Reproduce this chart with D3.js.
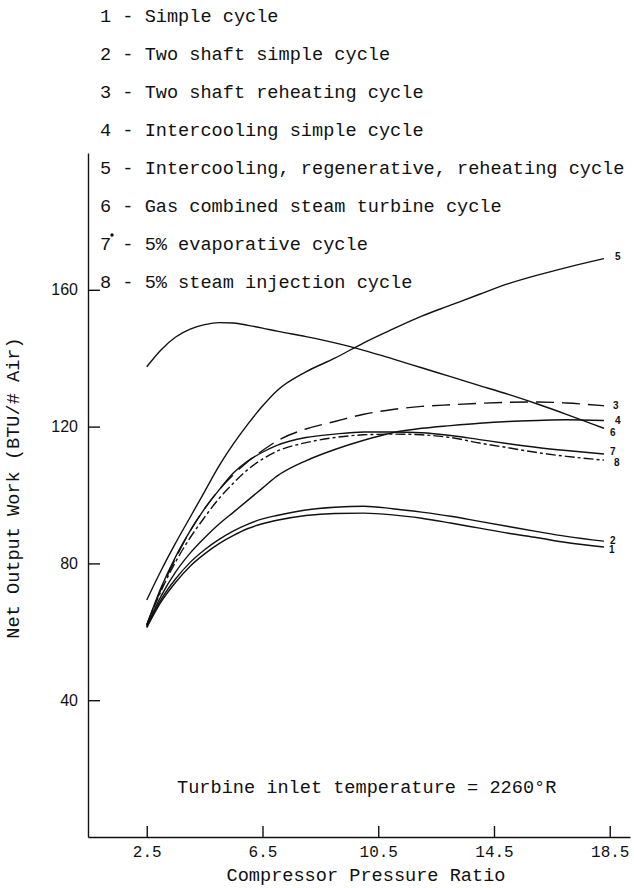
<!DOCTYPE html>
<html>
<head>
<meta charset="utf-8">
<script src="https://cdn.jsdelivr.net/npm/d3@7"></script>
<style>
  html, body { margin: 0; padding: 0; background: #fff; }
  svg { display: block; }
</style>
</head>
<body>
<svg id="chart" width="634" height="888"></svg>
<script>
// ---- data ----
const legendItems = [
  "1 - Simple cycle",
  "2 - Two shaft simple cycle",
  "3 - Two shaft reheating cycle",
  "4 - Intercooling simple cycle",
  "5 - Intercooling, regenerative, reheating cycle",
  "6 - Gas combined steam turbine cycle",
  "7 - 5% evaporative cycle",
  "8 - 5% steam injection cycle"
];
const xTicks = [2.5, 6.5, 10.5, 14.5, 18.5];
const yTicks = [40, 80, 120, 160];
const ratio = [2.5, 3, 3.5, 4, 4.5, 5, 5.5, 6, 6.5, 7, 8, 9, 10, 11, 12, 13, 14, 15, 16, 17, 18.3];

const simpleCycle      = [61.2, 68.8, 74.5, 79.2, 82.8, 85.8, 88.2, 90.2, 91.6, 92.6, 94.0, 94.6, 94.7, 94.2, 93.2, 91.8, 90.3, 88.8, 87.5, 86.1, 84.8];
const twoShaftSimple   = [61.5, 69.5, 75.5, 80.3, 84.0, 87.0, 89.5, 91.5, 93.0, 94.0, 95.6, 96.4, 96.7, 96.0, 95.0, 93.8, 92.3, 90.8, 89.3, 87.9, 86.5];
const twoShaftReheat   = [62.0, 72.5, 81.5, 89.5, 96.0, 101.5, 106.0, 109.8, 113.0, 115.8, 119.3, 121.5, 123.6, 125.0, 125.9, 126.4, 126.8, 127.1, 127.2, 126.9, 126.1];
const intercoolSimple  = [61.5, 70.5, 77.5, 83.0, 87.5, 91.5, 95.0, 98.5, 102.0, 105.5, 110.0, 113.3, 116.0, 118.2, 119.5, 120.3, 121.0, 121.5, 121.8, 122.0, 121.8];
const intercoolRegen   = [69.3, 78.0, 86.0, 93.5, 101.0, 108.5, 115.0, 120.8, 126.0, 130.5, 136.0, 140.0, 144.5, 148.5, 152.3, 155.5, 158.7, 161.8, 164.3, 166.5, 169.1];
const gasCombinedSteam = [137.5, 142.5, 146.2, 148.5, 149.8, 150.4, 150.3, 149.6, 148.8, 147.9, 146.3, 144.5, 142.3, 139.8, 137.2, 134.6, 132.0, 129.4, 126.6, 123.6, 119.5];
const evaporative      = [62.0, 73.0, 82.0, 89.5, 96.0, 101.5, 106.5, 110.0, 112.5, 114.5, 116.8, 117.8, 118.4, 118.4, 118.2, 117.4, 116.2, 115.0, 113.9, 113.0, 112.0];
const steamInjection   = [62.0, 72.0, 80.5, 87.5, 93.5, 99.0, 103.5, 107.5, 110.5, 112.8, 115.3, 116.8, 117.6, 117.8, 117.6, 116.8, 115.2, 113.8, 112.4, 111.3, 110.2];

const seriesIds    = ["1", "2", "3", "4", "5", "6", "7", "8"];
const seriesValues = [simpleCycle, twoShaftSimple, twoShaftReheat, intercoolSimple, intercoolRegen, gasCombinedSteam, evaporative, steamInjection];

// ---- styles (not data) ----
const dashStyles   = { "3": "18,8", "8": "10,3,3,3" };
const labelOffsets = { "1": [5, 3], "2": [6, -1], "3": [9, 0], "4": [11, 0], "5": [11, -2], "6": [6, 4], "7": [6, -2], "8": [10, 2] };

const svg = d3.select("#chart");
const x = d3.scaleLinear().domain([0.47, 19.2]).range([88, 630]);
const y = d3.scaleLinear().domain([0, 200]).range([837, 153]);

const mono = "'Liberation Mono', 'DejaVu Sans Mono', monospace";
const sans = "'Liberation Sans', Arial, sans-serif";

// legend
svg.append("g").selectAll("text").data(legendItems).join("text")
  .attr("x", 100).attr("y", (d, i) => 22 + i * 38)
  .attr("font-family", mono).attr("font-size", 18.6).attr("fill", "#111")
  .text(d => d);
svg.append("circle").attr("cx", 112).attr("cy", 235).attr("r", 1.7).attr("fill", "#111");

// axes
const yAxis = d3.axisLeft(y).tickValues(yTicks).tickSize(-12).tickSizeOuter(0).tickPadding(10).tickFormat(d3.format("d"));
const gy = svg.append("g").attr("transform", `translate(${x.range()[0]},0)`).call(yAxis);
gy.selectAll("text").attr("font-family", sans).attr("font-size", 16).attr("fill", "#111");
gy.selectAll("line, path").attr("stroke", "#111").attr("stroke-width", 1.4);

const xAxis = d3.axisBottom(x).tickValues(xTicks).tickSize(-11).tickSizeOuter(0).tickPadding(9).tickFormat(d3.format(".1f"));
const gx = svg.append("g").attr("transform", `translate(0,${y(0)})`).call(xAxis);
gx.selectAll("text").attr("font-family", mono).attr("font-size", 16).attr("fill", "#111");
gx.selectAll("line, path").attr("stroke", "#111").attr("stroke-width", 1.4);

// axis titles
svg.append("text").attr("x", 366).attr("y", 881).attr("text-anchor", "middle")
  .attr("font-family", mono).attr("font-size", 18.6).attr("fill", "#111")
  .text("Compressor Pressure Ratio");
svg.append("text").attr("transform", "translate(19,488) rotate(-90)").attr("text-anchor", "middle")
  .attr("font-family", mono).attr("font-size", 18.6).attr("fill", "#111")
  .text("Net Output Work (BTU/# Air)");
svg.append("text").attr("x", 177).attr("y", 793)
  .attr("font-family", mono).attr("font-size", 18.6).attr("fill", "#111")
  .text("Turbine inlet temperature = 2260°R");

// curves
const line = d3.line().x(d => x(d[0])).y(d => y(d[1])).curve(d3.curveMonotoneX);
const series = seriesIds.map((id, i) => ({ id, pts: ratio.map((r, j) => [r, seriesValues[i][j]]) }));

svg.append("g").selectAll("path").data(series).join("path")
  .attr("d", d => line(d.pts))
  .attr("fill", "none").attr("stroke", "#111").attr("stroke-width", 1.4)
  .attr("stroke-dasharray", d => dashStyles[d.id] || null);

svg.append("g").selectAll("text").data(series).join("text")
  .attr("x", d => x(d.pts[d.pts.length - 1][0]) + labelOffsets[d.id][0])
  .attr("y", d => y(d.pts[d.pts.length - 1][1]) + labelOffsets[d.id][1] + 3.5)
  .attr("font-family", sans).attr("font-size", 10).attr("font-weight", "bold").attr("fill", "#111")
  .text(d => d.id);
</script>
</body>
</html>
